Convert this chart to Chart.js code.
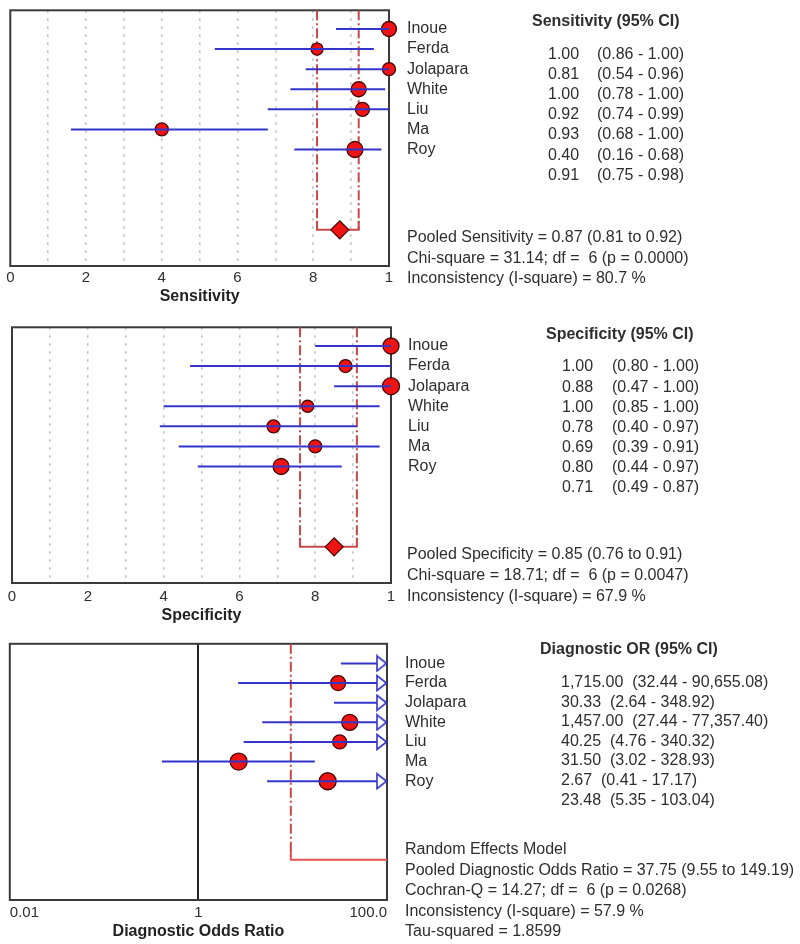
<!DOCTYPE html>
<html><head><meta charset="utf-8">
<script src="https://cdn.jsdelivr.net/npm/chart.js@4.4.1/dist/chart.umd.min.js"></script>
<style>
html,body{margin:0;padding:0;background:#fff}
body{width:800px;height:944px;position:relative;overflow:hidden}
canvas{position:absolute;left:0;display:block}
</style></head><body>
<canvas id="sens" width="800" height="316" style="top:0px;width:800px;height:316px"></canvas>
<canvas id="spec" width="800" height="316" style="top:317px;width:800px;height:316px"></canvas>
<canvas id="dor" width="800" height="310" style="top:634px;width:800px;height:310px"></canvas>
<script>
// ---------------- data ----------------
const studies = ['Inoue', 'Ferda', 'Jolapara', 'White', 'Liu', 'Ma', 'Roy'];

const sensValues = [1.00, 0.81, 1.00, 0.92, 0.93, 0.40, 0.91];
const sensLow    = [0.86, 0.54, 0.78, 0.74, 0.68, 0.16, 0.75];
const sensHigh   = [1.00, 0.96, 1.00, 0.99, 1.00, 0.68, 0.98];
const sensPooled = [0.87, 0.81, 0.92];
const sensChi    = 'Chi-square = 31.14; df =  6 (p = 0.0000)';
const sensI2     = 'Inconsistency (I-square) = 80.7 %';

const specValues = [1.00, 0.88, 1.00, 0.78, 0.69, 0.80, 0.71];
const specLow    = [0.80, 0.47, 0.85, 0.40, 0.39, 0.44, 0.49];
const specHigh   = [1.00, 1.00, 1.00, 0.97, 0.91, 0.97, 0.87];
const specPooled = [0.85, 0.76, 0.91];
const specChi    = 'Chi-square = 18.71; df =  6 (p = 0.0047)';
const specI2     = 'Inconsistency (I-square) = 67.9 %';

const dorValues = [1715.00, 30.33, 1457.00, 40.25, 31.50, 2.67, 23.48];
const dorLow    = [32.44, 2.64, 27.44, 4.76, 3.02, 0.41, 5.35];
const dorHigh   = [90655.08, 348.92, 77357.40, 340.32, 328.93, 17.17, 103.04];
const dorPooled = [37.75, 9.55, 149.19];
const dorModel  = 'Random Effects Model';
const dorQ      = 'Cochran-Q = 14.27; df =  6 (p = 0.0268)';
const dorI2     = 'Inconsistency (I-square) = 57.9 %';
const dorTau    = 'Tau-squared = 1.8599';

const propTickValues = [0, 0.2, 0.4, 0.6, 0.8, 1];
const propTickLabels = ['0', '2', '4', '6', '8', '1'];
const dorTickValues  = [0.01, 1, 100];
const dorTickLabels  = ['0.01', '1', '100.0'];

// ---------------- styles ----------------
const sensRadius = [7.5, 6, 6.5, 7.5, 7, 6.5, 8];
const specRadius = [8, 6.5, 8.5, 6, 6.5, 6.5, 8];
const dorRadius  = [7.5, 7.5, 7.5, 8, 7, 8.5, 8.5];

const FAMILY = '"Liberation Sans", Arial, Helvetica, sans-serif';
const RED = '#ee1414', RED_EDGE = '#4a0303', BLUE = '#3434c8';
const BRACKET = '#c84848', DOR_LINE = '#e85252', GRID = '#c2c2c2';
const FRAME = '#3a3a3a', TEXT = '#2e2e2e';
const POOLED_ROW = 10;

Chart.defaults.font.family = FAMILY;
Chart.defaults.color = TEXT;

function fmt2(v) { return v.toLocaleString('en-US', {minimumFractionDigits: 2, maximumFractionDigits: 2}); }

function makeArrow() {
  const c = document.createElement('canvas');
  c.width = 24; c.height = 18;
  const g = c.getContext('2d');
  g.beginPath(); g.moveTo(11.5, 9); g.lineTo(2, 1.5); g.lineTo(2, 16.5); g.closePath();
  g.fillStyle = '#fff'; g.fill();
  g.strokeStyle = BLUE; g.lineWidth = 1.6; g.lineJoin = 'miter'; g.stroke();
  return c;
}
const ARROW = makeArrow();

const framePlugin = {
  id: 'frame',
  beforeDatasetsDraw(chart) {
    const {ctx, chartArea: a} = chart;
    ctx.save(); ctx.strokeStyle = FRAME; ctx.lineWidth = 2;
    ctx.strokeRect(a.left, a.top, a.right - a.left, a.bottom - a.top);
    ctx.restore();
  }
};

const sideText = {
  id: 'sideText',
  afterDraw(chart, args, o) {
    if (!o || !o.header) return;
    const {ctx} = chart; const ys = chart.scales.y;
    ctx.save();
    ctx.textBaseline = 'middle'; ctx.textAlign = 'left'; ctx.fillStyle = TEXT;
    ctx.font = 'bold 16px ' + FAMILY;
    ctx.fillText(o.header, o.headerX, o.headerY);
    ctx.font = '16px ' + FAMILY;
    studies.forEach((s, i) => ctx.fillText(s, o.nameX, ys.getPixelForValue(i)));
    o.values.forEach((v, i) => {
      const y = ys.getPixelForValue(i + o.valueShift);
      ctx.fillText(v, o.valueX, y);
      const x2 = o.ciX != null ? o.ciX : o.valueX + ctx.measureText(v + '  ').width;
      ctx.fillText(o.cis[i], x2, y);
    });
    o.stats.forEach((t, k) => ctx.fillText(t, o.statsX, o.statsY + k * o.statsStep));
    ctx.restore();
  }
};

function buildDatasets(values, low, high, pooled, radius, rowMin, isDor, xMax) {
  const ds = [];
  // pooled dashed verticals
  [pooled[1], pooled[2]].forEach(v => ds.push({
    type: 'line', data: [{x: v, y: rowMin}, {x: v, y: POOLED_ROW}],
    borderColor: BRACKET, borderWidth: 2, borderDash: [10, 3, 2, 3],
    pointRadius: 0, clip: 0, order: 6
  }));
  // bracket
  ds.push({
    type: 'line',
    data: [{x: pooled[1], y: POOLED_ROW - 0.45}, {x: pooled[1], y: POOLED_ROW},
           {x: pooled[2], y: POOLED_ROW}, {x: pooled[2], y: POOLED_ROW - 0.45}],
    borderColor: isDor ? DOR_LINE : BRACKET, borderWidth: 2, pointRadius: 0, clip: 0, order: 5
  });
  // study points
  ds.push({
    type: 'scatter', data: values.map((v, i) => ({x: v, y: i})),
    pointStyle: 'circle', pointRadius: radius, backgroundColor: RED,
    borderColor: RED_EDGE, borderWidth: 1.3, clip: isDor ? undefined : false, order: 3
  });
  // CI lines (drawn over the points, as in the reference)
  values.forEach((v, i) => ds.push({
    type: 'line', data: [{x: low[i], y: i}, {x: high[i], y: i}],
    borderColor: BLUE, borderWidth: 2, pointRadius: 0, clip: 0, order: 2
  }));
  if (isDor) {
    // arrows for intervals running past the axis limit
    ds.push({
      type: 'scatter',
      data: high.map((h, i) => h > xMax ? {x: xMax, y: i} : null).filter(Boolean),
      pointStyle: ARROW, pointRadius: 8, clip: false, order: 0
    });
  } else {
    ds.push({
      type: 'scatter', data: [{x: pooled[0], y: POOLED_ROW}],
      pointStyle: 'rectRot', pointRadius: 9, backgroundColor: RED,
      borderColor: RED_EDGE, borderWidth: 1.3, clip: false, order: 0
    });
  }
  return ds;
}

function propXAxis(title, tickPad, titlePad, axisH) {
  return {
    type: 'linear', min: 0, max: 1,
    ticks: {
      stepSize: 0.1, autoSkip: false, maxRotation: 0, padding: tickPad,
      font: {size: 15}, color: TEXT,
      callback: v => {
        const k = propTickValues.findIndex(t => Math.abs(t - v) < 1e-6);
        return k >= 0 ? propTickLabels[k] : '';
      }
    },
    grid: {
      drawTicks: false, lineWidth: 1.6,
      color: c => (c.tick && (c.tick.value < 1e-6 || c.tick.value > 1 - 1e-6)) ? 'rgba(0,0,0,0)' : GRID
    },
    border: {display: false, dash: [2.5, 5.5]},
    title: {display: true, text: title, color: '#222', font: {size: 16, weight: 'bold'},
            padding: {top: 0, bottom: titlePad}},
    afterFit: s => { s.height = axisH; }
  };
}

function common(pad, rowMin, rowMax, xAxis, textOpts) {
  return {
    responsive: false, animation: false, devicePixelRatio: 1, events: [],
    layout: {padding: pad},
    scales: {
      x: xAxis,
      y: {type: 'linear', reverse: true, min: rowMin, max: rowMax, display: false}
    },
    plugins: {legend: {display: false}, tooltip: {enabled: false}, sideText: textOpts}
  };
}

// ---------------- Sensitivity ----------------
new Chart(document.getElementById('sens'), {
  type: 'scatter',
  data: {datasets: buildDatasets(sensValues, sensLow, sensHigh, sensPooled, sensRadius, -0.93, false)},
  options: common({left: 10, right: 411, top: 7, bottom: 0}, -0.93, 11.8,
    propXAxis('Sensitivity', 3, 9.4, 50),
    {
      header: 'Sensitivity (95% CI)', headerX: 532, headerY: 22,
      nameX: 407, valueX: 548, ciX: 597, valueShift: 1.28,
      values: sensValues.map(v => v.toFixed(2)),
      cis: sensLow.map((l, i) => '(' + l.toFixed(2) + ' - ' + sensHigh[i].toFixed(2) + ')'),
      stats: ['Pooled Sensitivity = ' + sensPooled[0].toFixed(2) + ' (' + sensPooled[1].toFixed(2) + ' to ' + sensPooled[2].toFixed(2) + ')', sensChi, sensI2],
      statsX: 407, statsY: 238, statsStep: 20.5
    }),
  plugins: [framePlugin, sideText]
});

// ---------------- Specificity ----------------
new Chart(document.getElementById('spec'), {
  type: 'scatter',
  data: {datasets: buildDatasets(specValues, specLow, specHigh, specPooled, specRadius, -0.93, false)},
  options: common({left: 12, right: 409, top: 7, bottom: 0}, -0.93, 11.8,
    propXAxis('Specificity', 5, 7.4, 50),
    {
      header: 'Specificity (95% CI)', headerX: 546, headerY: 18,
      nameX: 408, valueX: 562, ciX: 612, valueShift: 1.05,
      values: specValues.map(v => v.toFixed(2)),
      cis: specLow.map((l, i) => '(' + l.toFixed(2) + ' - ' + specHigh[i].toFixed(2) + ')'),
      stats: ['Pooled Specificity = ' + specPooled[0].toFixed(2) + ' (' + specPooled[1].toFixed(2) + ' to ' + specPooled[2].toFixed(2) + ')', specChi, specI2],
      statsX: 407, statsY: 238, statsStep: 20.8
    }),
  plugins: [framePlugin, sideText]
});

// ---------------- Diagnostic OR ----------------
const DOR_MAX = dorTickValues[dorTickValues.length - 1];
new Chart(document.getElementById('dor'), {
  type: 'scatter',
  data: {datasets: buildDatasets(dorValues, dorLow, dorHigh, dorPooled, dorRadius, -1.0, true, DOR_MAX)},
  options: common({left: 7, right: 413, top: 7, bottom: 0}, -1.0, 12.05,
    {
      type: 'logarithmic', min: dorTickValues[0], max: DOR_MAX,
      afterBuildTicks: s => { s.ticks = dorTickValues.map(v => ({value: v})); },
      ticks: {
        autoSkip: false, maxRotation: 0, align: 'inner', padding: 4,
        font: {size: 15}, color: TEXT,
        callback: v => { const k = dorTickValues.indexOf(v); return k >= 0 ? dorTickLabels[k] : ''; }
      },
      grid: {
        drawTicks: false, lineWidth: 2,
        color: c => (c.tick && c.tick.value === 1) ? '#222' : 'rgba(0,0,0,0)'
      },
      border: {display: false},
      title: {display: true, text: 'Diagnostic Odds Ratio', color: '#222', font: {size: 16, weight: 'bold'},
              padding: {top: 0, bottom: 2.4}},
      afterFit: s => { s.height = 44; }
    },
    {
      header: 'Diagnostic OR (95% CI)', headerX: 540, headerY: 16,
      nameX: 405, valueX: 561, ciX: null, valueShift: 0.97,
      values: dorValues.map(fmt2),
      cis: dorLow.map((l, i) => '(' + fmt2(l) + ' - ' + fmt2(dorHigh[i]) + ')'),
      stats: [dorModel, 'Pooled Diagnostic Odds Ratio = ' + dorPooled[0].toFixed(2) + ' (' + dorPooled[1].toFixed(2) + ' to ' + dorPooled[2].toFixed(2) + ')', dorQ, dorI2, dorTau],
      statsX: 405, statsY: 216, statsStep: 20.4
    }),
  plugins: [framePlugin, sideText]
});
</script>
</body></html>
